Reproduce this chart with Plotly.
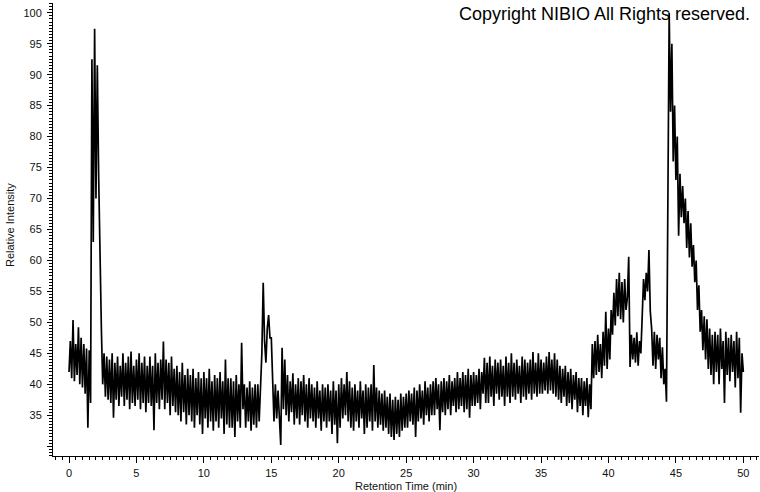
import numpy as np
import plotly.graph_objects as go

# ---- data (relative intensity every 0.1 min, 0.0 .. 50.0) ----
time_start_min = 0.0
time_step_min = 0.1
intensity_rows = [
    [42, 47, 41, 50.4, 40.5, 46.5, 41.5, 49.2, 40, 47.5],          # 0
    [39.5, 46.5, 38.5, 45.8, 33, 45.5, 37, 92.5, 63, 97.4],        # 1
    [70, 91.5, 73.5, 58, 49, 40, 45, 38, 44.5, 37.5],              # 2
    [44, 37, 45, 34.6, 43.5, 37.5, 44.5, 36.5, 43, 38],            # 3
    [45, 36.5, 43.5, 37.5, 44.5, 36, 45.3, 37, 43, 36.5],          # 4
    [44, 37.5, 45, 36, 43.5, 37, 44.5, 35.5, 43, 37],              # 5
    [44.5, 36.5, 43, 32.6, 45, 37, 43.5, 36, 44, 37.5],            # 6
    [46.9, 36, 44, 37, 43.5, 35, 44.5, 36.5, 42.5, 35.5],          # 7
    [43, 35, 42, 34, 43.5, 35.5, 41.5, 33.5, 42.5, 35],            # 8
    [41.5, 34, 42.5, 33, 41, 35, 42, 33.5, 41, 32],                # 9
    [42, 34.5, 41, 33, 42.5, 34, 40.5, 32.5, 41.5, 34],            # 10
    [41, 33, 42, 34.5, 40.5, 32, 44, 33.5, 41, 33],                # 11
    [41, 33, 40.5, 31.5, 41.5, 34, 40, 33, 46.7, 36],              # 12
    [40, 33, 39.5, 34, 40.5, 32.5, 39.5, 33.5, 40, 33],            # 13
    [40, 34, 41, 45, 56.4, 47, 43.5, 49, 51.2, 47.5],              # 14
    [47.5, 40, 34, 40, 34.5, 39, 33.5, 30.2, 45.9, 36],            # 15
    [44, 35, 41.5, 34, 40.5, 35.5, 41.8, 33.5, 40, 34.5],          # 16
    [41, 33.5, 40.5, 35, 41.5, 34, 40, 33, 41, 34.5],              # 17
    [40, 34, 39.5, 33, 40.5, 34.5, 39, 32.5, 40, 34],              # 18
    [39.5, 33, 40, 34, 39, 32, 40.5, 33.5, 39, 30.5],              # 19
    [40, 33, 41, 34.5, 40, 35, 42, 34, 40.5, 33],                  # 20
    [39.5, 32.5, 40, 34, 39, 33, 40.5, 34.5, 39, 32],              # 21
    [40, 33, 39.5, 34, 40, 32.5, 43.1, 34, 39.5, 33],              # 22
    [39, 33.5, 38.5, 32.5, 39, 33, 38, 32, 38.5, 31.5],            # 23
    [37.5, 31, 38, 32, 37.5, 31.5, 38.5, 32.5, 38, 33],            # 24
    [38.5, 33, 39, 34, 38.5, 33.5, 39.5, 31.5, 39, 34],            # 25
    [40, 34.5, 39, 33.5, 40.5, 35, 39.5, 34, 40, 35],              # 26
    [40.5, 35, 41, 36, 40, 32.6, 40.5, 35.5, 41, 35],              # 27
    [40.5, 36, 41.5, 35, 40.5, 36.5, 41, 35.5, 42, 36],            # 28
    [41, 36.5, 42, 35.5, 41.5, 36, 42.5, 34.6, 41.5, 36.5],        # 29
    [42, 36.5, 41.5, 37, 42.5, 36, 42, 38.5, 44.3, 37],            # 30
    [43.5, 37, 44.5, 38, 43, 36.5, 44, 38.5, 43.5, 37.5],          # 31
    [44, 38, 43, 36.5, 44.5, 38, 43.5, 37, 45, 38],                # 32
    [43.5, 37.5, 44, 38.5, 43, 37, 44.5, 38, 44, 37.5],            # 33
    [43.5, 38.5, 44, 37.5, 45.2, 38.5, 43.5, 38, 45, 38.5],        # 34
    [44, 38.5, 43.5, 39, 44.5, 38.5, 45.2, 39, 44, 38.5],          # 35
    [45, 38, 44, 37.5, 43, 37, 42.5, 38, 43, 36.5],                # 36
    [42, 37, 42.5, 36, 41.5, 37.5, 42, 35.5, 41, 36.5],            # 37
    [41, 35, 40.5, 36.5, 41, 34.7, 40, 36, 46.5, 41],              # 38
    [47, 41.5, 48, 42, 46.5, 41, 48.5, 43, 51.7, 42.5],            # 39
    [49, 44, 52, 48, 54.8, 49.5, 57, 51, 58, 50.5],                # 40
    [56.5, 50, 57, 52, 54, 60.6, 42.8, 48, 44, 47.5],              # 41
    [43.5, 48.4, 43, 47, 45, 50, 57, 53.6, 58, 55],                # 42
    [61.7, 51.8, 49, 43, 48.5, 42.5, 48, 44, 47.5, 41],            # 43
    [46, 40, 42.5, 37.2, 80, 100, 84, 95, 76, 85],                 # 44
    [73, 80, 64, 74, 67, 72, 66, 70, 62, 68],                      # 45
    [60.5, 66, 59, 62.5, 56.5, 60, 52, 56, 48.5, 52],              # 46
    [45.5, 51, 44, 50.5, 42.5, 49, 41.5, 48, 40, 48.5],            # 47
    [42, 48, 40, 49, 42.5, 47, 37, 48.5, 41.5, 47.5],              # 48
    [40.5, 48, 42, 47, 39.5, 48.5, 41, 47.5, 35.4, 45],            # 49
    [42],                                                          # 50.0
]

x_tick_values = [0, 5, 10, 15, 20, 25, 30, 35, 40, 45, 50]
y_tick_values = [30, 35, 40, 45, 50, 55, 60, 65, 70, 75, 80, 85, 90, 95, 100]
y_tick_labels = ["", "35", "40", "45", "50", "55", "60", "65", "70", "75", "80", "85", "90", "95", "100"]

x_title = "Retention Time (min)"
y_title = "Relative Intensity"
copyright_text = "Copyright NIBIO All Rights reserved."

# ---- build figure ----
intensity = [v for row in intensity_rows for v in row]
retention_time = np.round(time_start_min + time_step_min * np.arange(len(intensity)), 2)

FONT = "Liberation Sans, Arial, sans-serif"

fig = go.Figure()
fig.add_trace(go.Scatter(
    x=retention_time, y=intensity, mode="lines",
    line=dict(color="black", width=1.7), hoverinfo="skip", showlegend=False,
))

L, R, T, B = 53, 1, 3, 36
W, H = 760, 492
pw, ph = W - L - R, H - T - B

axis_common = dict(
    showgrid=False, zeroline=False, automargin=False,
    showline=True, linecolor="black", linewidth=1, mirror=False,
    tickmode="array", ticks="outside", tickwidth=1, tickcolor="black",
    tickfont=dict(family=FONT, size=11, color="#111"),
    minor=dict(ticks="outside", ticklen=3, tickwidth=1, tickcolor="black",
               tick0=0, dtick=0.5, showgrid=False),
)

fig.update_layout(
    width=W, height=H,
    margin=dict(l=L, r=R, t=T, b=B, pad=0, autoexpand=False),
    paper_bgcolor="white", plot_bgcolor="white",
    font=dict(family=FONT, size=11, color="#111"),
    showlegend=False,
    xaxis=dict(range=[-1.186, 51.16], tickvals=x_tick_values, ticklen=6,
               ticklabelstandoff=1, **axis_common),
    yaxis=dict(range=[28.43, 101.57], tickvals=y_tick_values, ticktext=y_tick_labels,
               ticklen=5, ticklabelstandoff=3, **axis_common),
    annotations=[
        dict(text=x_title, xref="paper", yref="paper",
             x=(406 - L) / pw, y=-(486 - (T + ph)) / ph,
             xanchor="center", yanchor="middle", showarrow=False,
             font=dict(family=FONT, size=11, color="#111")),
        dict(text=y_title, xref="paper", yref="paper",
             x=(10 - L) / pw, y=(T + ph - 225) / ph, textangle=-90,
             xanchor="center", yanchor="middle", showarrow=False,
             font=dict(family=FONT, size=11, color="#111")),
        dict(text=copyright_text, xref="paper", yref="paper",
             x=(752 - L) / pw, y=(T + ph - 14) / ph,
             xanchor="right", yanchor="middle", showarrow=False,
             font=dict(family=FONT, size=18, color="black")),
    ],
)

fig.write_html(
    "out.html",
    config={"displayModeBar": False},
    post_script="document.body.style.margin='0';document.body.style.overflow='hidden';",
)
